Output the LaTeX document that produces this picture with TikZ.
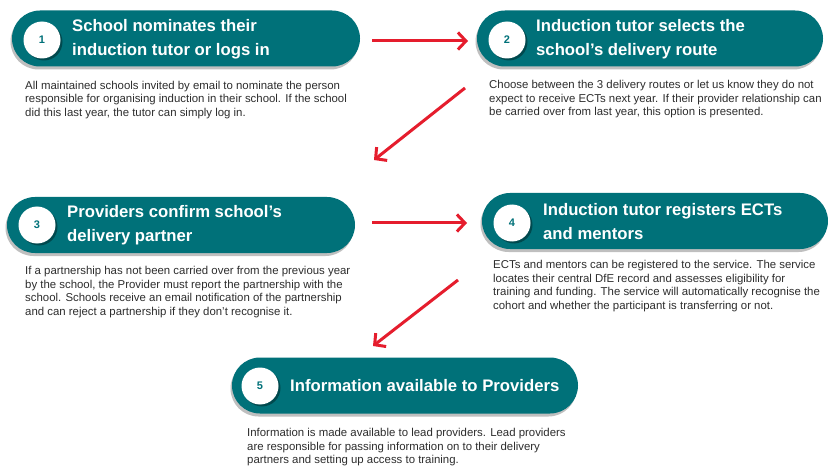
\documentclass[tikz,border=0pt]{standalone}
\usepackage{fontspec}
\setmainfont{Liberation Sans}
\usetikzlibrary{arrows.meta,shadows}
\definecolor{tealc}{RGB}{0,113,121}
\definecolor{arrowred}{RGB}{229,29,45}
\definecolor{desctext}{RGB}{45,45,45}
\tikzset{
  pill/.style={rectangle, rounded corners=28pt, fill=tealc, minimum height=56pt, inner sep=0pt,
    drop shadow={shadow xshift=-1.5pt, shadow yshift=-3pt, opacity=0.25, fill=black}},
  numc/.style={circle, fill=white, minimum size=37pt, inner sep=0pt, text=tealc,
    font=\fontsize{11}{13}\selectfont\bfseries,
    drop shadow={shadow xshift=2pt, shadow yshift=-2pt, opacity=0.35, fill=black}},
  title/.style={anchor=west, text=white, align=left, inner sep=0pt,
    font=\fontsize{16.7}{24}\selectfont\bfseries},
  desc/.style={anchor=north west, text=desctext, align=left, inner sep=0pt,
    font=\fontsize{11.4}{13.5}\selectfont},
  redarrow/.style={draw=arrowred, line width=3pt,
    -{Straight Barb[length=8pt,width=17pt,line width=3pt]}}
}
\begin{document}
\begin{tikzpicture}[x=1pt,y=-1pt]
\useasboundingbox[fill=white] (0,0) rectangle (828,468);

% Step 1
\node[pill, minimum width=348pt] (p1) at (186,38.5) {};
\node[numc] (c1) at (42,40) {1};
\node[title] (t1) at (72,39) {School nominates their\\induction tutor or logs in};
\node[desc] (d1) at (25,81) {All maintained schools invited by email to nominate the person\\responsible for organising induction in their school. If the school\\did this last year, the tutor can simply log in.};

% Step 2
\node[pill, minimum width=346pt] (p2) at (650,38.5) {};
\node[numc] (c2) at (507,40) {2};
\node[title] (t2) at (536,39) {Induction tutor selects the\\school’s delivery route};
\node[desc] (d2) at (489,80.5) {Choose between the 3 delivery routes or let us know they do not\\expect to receive ECTs next year. If their provider relationship can\\be carried over from last year, this option is presented.};

% Step 3
\node[pill, minimum width=348pt] (p3) at (181,225) {};
\node[numc] (c3) at (37,225) {3};
\node[title] (t3) at (67,225) {Providers confirm school’s\\delivery partner};
\node[desc] (d3) at (25,266.5) {If a partnership has not been carried over from the previous year\\by the school, the Provider must report the partnership with the\\school. Schools receive an email notification of the partnership\\and can reject a partnership if they don’t recognise it.};

% Step 4
\node[pill, minimum width=346pt] (p4) at (655,221) {};
\node[numc] (c4) at (512,223) {4};
\node[title] (t4) at (543,222) {Induction tutor registers ECTs\\and mentors};
\node[desc] (d4) at (493,260.5) {ECTs and mentors can be registered to the service. The service\\locates their central DfE record and assesses eligibility for\\training and funding. The service will automatically recognise the\\cohort and whether the participant is transferring or not.};

% Step 5
\node[pill, minimum width=346pt] (p5) at (405,385.5) {};
\node[numc] (c5) at (260,386) {5};
\node[title] (t5) at (290,386) {Information available to Providers};
\node[desc] (d5) at (247,428.5) {Information is made available to lead providers. Lead providers\\are responsible for passing information on to their delivery\\partners and setting up access to training.};

% Arrows
\coordinate (a1s) at (372,41);
\coordinate (a1e) at (468,41);
\coordinate (a2s) at (465,88);
\coordinate (a2e) at (374,160);
\coordinate (a3s) at (372,223);
\coordinate (a3e) at (467,223);
\coordinate (a4s) at (458,280);
\coordinate (a4e) at (373,346);
\draw[redarrow] (a1s) -- (a1e);
\draw[redarrow] (a2s) -- (a2e);
\draw[redarrow] (a3s) -- (a3e);
\draw[redarrow] (a4s) -- (a4e);
\end{tikzpicture}
\end{document}
